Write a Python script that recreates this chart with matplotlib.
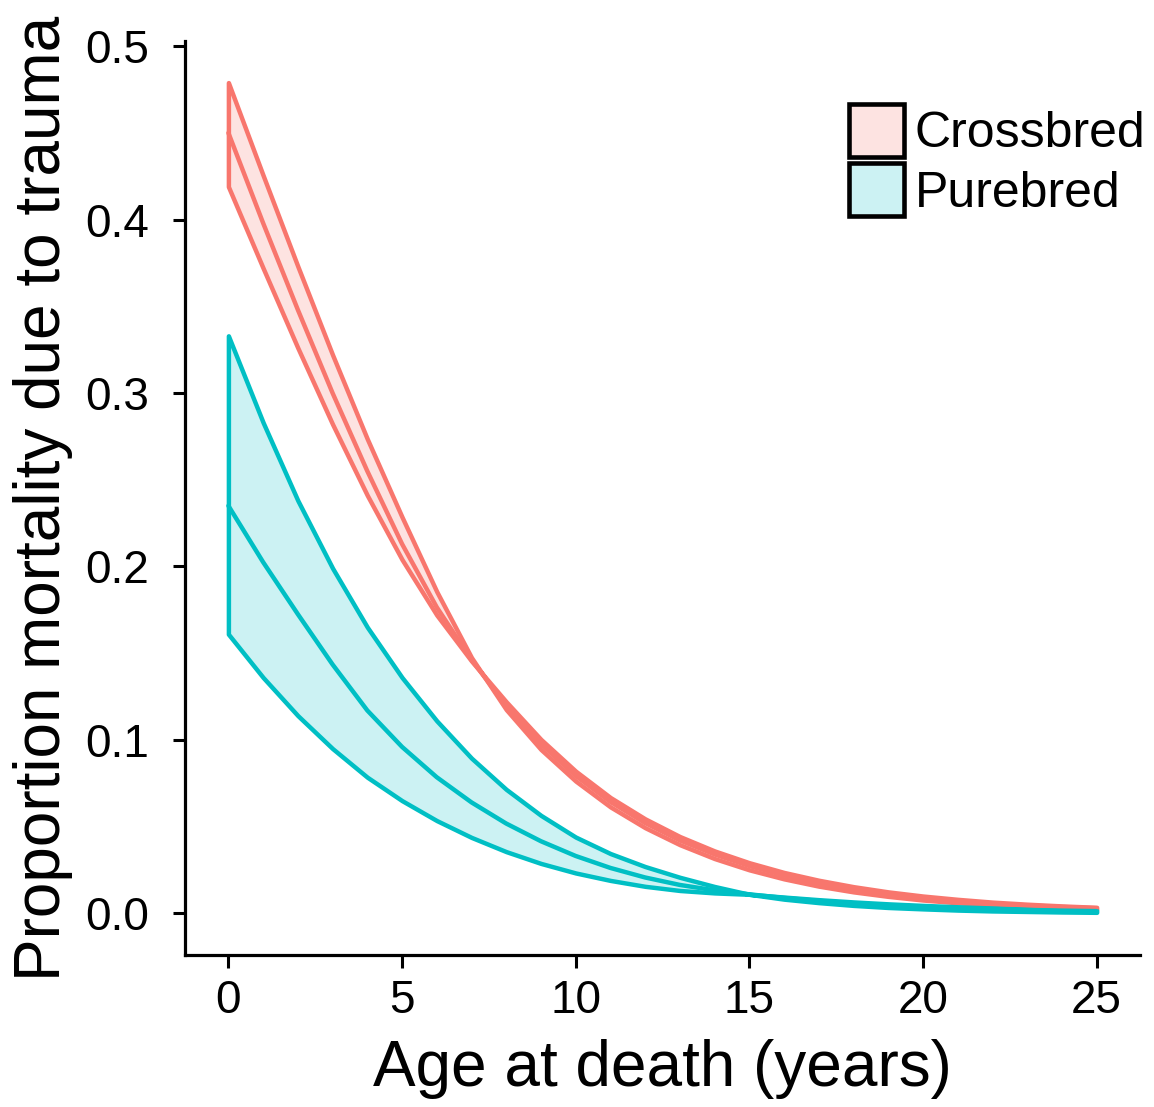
import matplotlib
matplotlib.use("Agg")
import matplotlib.pyplot as plt
from matplotlib.colors import to_rgba
from matplotlib.patches import Patch

plt.rcParams['font.family'] = ['Liberation Sans', 'DejaVu Sans']

# age at death (years)
age = list(range(26))

# Crossbred: central line and the two band edges
cross_mid = [0.450, 0.398, 0.348, 0.300, 0.255, 0.213, 0.1765, 0.1462, 0.1198, 0.0977,
             0.0793, 0.0643, 0.0521, 0.0421, 0.034, 0.0273, 0.0219, 0.0175, 0.0140, 0.0112,
             0.0089, 0.0071, 0.0057, 0.0046, 0.0037, 0.0030]
cross_a = [0.479, 0.4255, 0.373, 0.322, 0.2735, 0.2285, 0.1855, 0.1475, 0.1175, 0.0945,
           0.0763, 0.0614, 0.0494, 0.0396, 0.0316, 0.0251, 0.0199, 0.0157, 0.0124, 0.0098,
           0.0077, 0.0061, 0.0048, 0.0038, 0.0030, 0.0023]
cross_b = [0.419, 0.372, 0.326, 0.282, 0.241, 0.204, 0.172, 0.1455, 0.1220, 0.1003,
           0.0820, 0.0668, 0.0545, 0.0443, 0.0360, 0.0292, 0.0236, 0.0191, 0.0154, 0.0124,
           0.0100, 0.0081, 0.0065, 0.0053, 0.0043, 0.0035]

# Purebred
pure_mid = [0.235, 0.2025, 0.1725, 0.1435, 0.117, 0.096, 0.0785, 0.064, 0.0518, 0.0416,
            0.0331, 0.0262, 0.0207, 0.0164, 0.0133, 0.0110, 0.0089, 0.0072, 0.0058, 0.0047,
            0.0038, 0.0031, 0.0025, 0.0020, 0.0016, 0.0013]
pure_a = [0.333, 0.283, 0.238, 0.199, 0.165, 0.136, 0.111, 0.0895, 0.0715, 0.0565,
          0.0440, 0.0345, 0.0270, 0.0208, 0.0155, 0.0110, 0.0082, 0.0062, 0.0046, 0.0034,
          0.0026, 0.0019, 0.0014, 0.0011, 0.0008, 0.0006]
pure_b = [0.161, 0.136, 0.114, 0.095, 0.0785, 0.065, 0.0535, 0.0438, 0.0356, 0.0288,
          0.0233, 0.0190, 0.0156, 0.0132, 0.0118, 0.0110, 0.0094, 0.0079, 0.0066, 0.0055,
          0.0046, 0.0038, 0.0031, 0.0025, 0.0021, 0.0017]

groups = ['Crossbred', 'Purebred']
colors = ['#F8766D', '#00BFC4']

fig = plt.figure(figsize=(11.54, 11.07), dpi=100)
ax = fig.add_axes([0.1603, 0.1373, 0.8276, 0.8257])

lw = 3.2
for (mid, a, b), col in zip([(cross_mid, cross_a, cross_b),
                             (pure_mid, pure_a, pure_b)], colors):
    ax.fill_between(age, b, a, facecolor=to_rgba(col, 0.2), edgecolor=col,
                    linewidth=lw, joinstyle='round')
    ax.plot(age, mid, color=col, lw=lw, solid_joinstyle='round', solid_capstyle='round')

ax.set_xlim(-1.25, 26.25)
ax.set_ylim(-0.024, 0.503)
ax.set_xticks([0, 5, 10, 15, 20, 25])
ax.set_yticks([0.0, 0.1, 0.2, 0.3, 0.4, 0.5])
ax.set_yticklabels(['0.0', '0.1', '0.2', '0.3', '0.4', '0.5'])

for s in ['top', 'right']:
    ax.spines[s].set_visible(False)
for s in ['left', 'bottom']:
    ax.spines[s].set_linewidth(2.3)
    ax.spines[s].set_color('black')
ax.tick_params(axis='both', length=9, width=2.2, color='black',
               labelsize=33, pad=8, labelcolor='black')
ax.tick_params(axis='y', pad=17)

ax.set_xlabel('Age at death (years)', fontsize=46, labelpad=12)
ax.set_ylabel('Proportion mortality due to trauma', fontsize=46, labelpad=9)

handles = [Patch(facecolor=to_rgba(c, 0.2), edgecolor='black', linewidth=3.3)
           for c in colors]
fig.legend(handles, groups, loc='upper left', bbox_to_anchor=(0.7355, 0.906),
           frameon=False, fontsize=36, handlelength=1.1, handleheight=1.25,
           handletextpad=0.22, labelspacing=0.12, borderpad=0, borderaxespad=0)

fig.savefig('out.png', dpi=100)
